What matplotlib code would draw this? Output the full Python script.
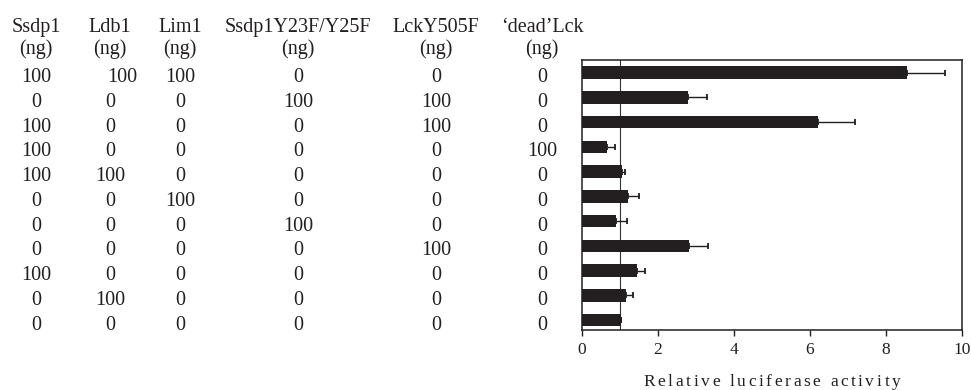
import matplotlib
matplotlib.use("Agg")
from matplotlib import pyplot as plt
from matplotlib import transforms
import numpy as np

# reporter assay: transfected amounts (ng) per row, top to bottom
ssdp1 = [100, 0, 100, 100, 100, 0, 0, 0, 100, 0, 0]
ldb1 = [100, 0, 0, 0, 100, 0, 0, 0, 0, 100, 0]
lim1 = [100, 0, 0, 0, 0, 100, 0, 0, 0, 0, 0]
ssdp1_mut = [0, 100, 0, 0, 0, 0, 100, 0, 0, 0, 0]
lck_y505f = [0, 100, 100, 0, 0, 0, 0, 100, 0, 0, 0]
dead_lck = [0, 0, 0, 100, 0, 0, 0, 0, 0, 0, 0]

col_names = ["Ssdp1", "Ldb1", "Lim1", "Ssdp1Y23F/Y25F", "LckY505F", "\u2018dead\u2019Lck"]
columns = [ssdp1, ldb1, lim1, ssdp1_mut, lck_y505f, dead_lck]

activity = [8.55, 2.80, 6.22, 0.67, 1.04, 1.22, 0.89, 2.82, 1.44, 1.15, 1.02]
err = [0.99, 0.49, 0.96, 0.21, 0.09, 0.29, 0.29, 0.50, 0.23, 0.18, 0.0]

xticks = [0, 2, 4, 6, 8, 10]
xlabel = "Relative luciferase activity"

#config
W, H = 971, 390
plt.rcParams['font.family'] = ['Liberation Serif', 'DejaVu Serif']
ink = '#231f20'

fig = plt.figure(figsize=(W / 100, H / 100), dpi=100)
ax = fig.add_axes([582 / W, 1 - 330 / H, 380 / W, 270 / H])

rows = np.arange(len(activity))
ax.axvline(1, color='#333333', lw=0.8, zorder=1)
ax.barh(rows, activity, height=0.5, color=ink, zorder=2)
xerr = np.array([np.zeros(len(err)), err])
ax.errorbar(activity, rows, xerr=xerr, fmt='none', ecolor=ink,
            elinewidth=1.0, capsize=2.5, capthick=1.3, zorder=3)

ax.set_xlim(0, 10)
ax.set_ylim(10.4, -0.51)
ax.set_xticks(xticks)
ax.set_xticklabels([str(t) for t in xticks], fontsize=12.5, color=ink)
ax.set_yticks([])
ax.tick_params(axis='x', direction='out', length=4, width=1.0, pad=4.5, color=ink)
for s in ax.spines.values():
    s.set_linewidth(1.1)
    s.set_color(ink)

# letter-spaced axis title, drawn char by char
renderer = fig.canvas.get_renderer()
lab_fs = 12.5
track = 2.6  # px added after each character

def text_width(s):
    t = fig.text(0, 0, s, fontsize=lab_fs)
    w = t.get_window_extent(renderer).width
    t.remove()
    return w

full_w = text_width(xlabel) + track * (len(xlabel) - 1)
x0 = 772 - full_w / 2
base_y = 1 - 386 / H
for k, ch in enumerate(xlabel):
    if ch == " ":
        continue
    pos = text_width(xlabel[:k + 1]) - text_width(ch) + track * k
    fig.text((x0 + pos) / W, base_y, ch, ha='left', va='baseline',
             fontsize=lab_fs, color=ink)

# table of amounts on the left
tr = transforms.blended_transform_factory(fig.transFigure, ax.transData)
col_x = [36, 110, 180, 298, 436, 542]
fs = 14.5
for j, (name, vals) in enumerate(zip(col_names, columns)):
    x = col_x[j] / W
    ax.text(x, -1.64, name, transform=tr, ha='center', va='baseline',
            fontsize=fs, color=ink, clip_on=False)
    ax.text(x, -0.76, "(ng)", transform=tr, ha='center', va='baseline',
            fontsize=fs, color=ink, clip_on=False)
    for i, v in enumerate(vals):
        xx = x
        if i == 0 and j == 1:
            xx = 122 / W
        ax.text(xx, i + 0.38, str(v), transform=tr, ha='center', va='baseline',
                fontsize=fs, color=ink, clip_on=False)

fig.savefig("out.png", dpi=100)
